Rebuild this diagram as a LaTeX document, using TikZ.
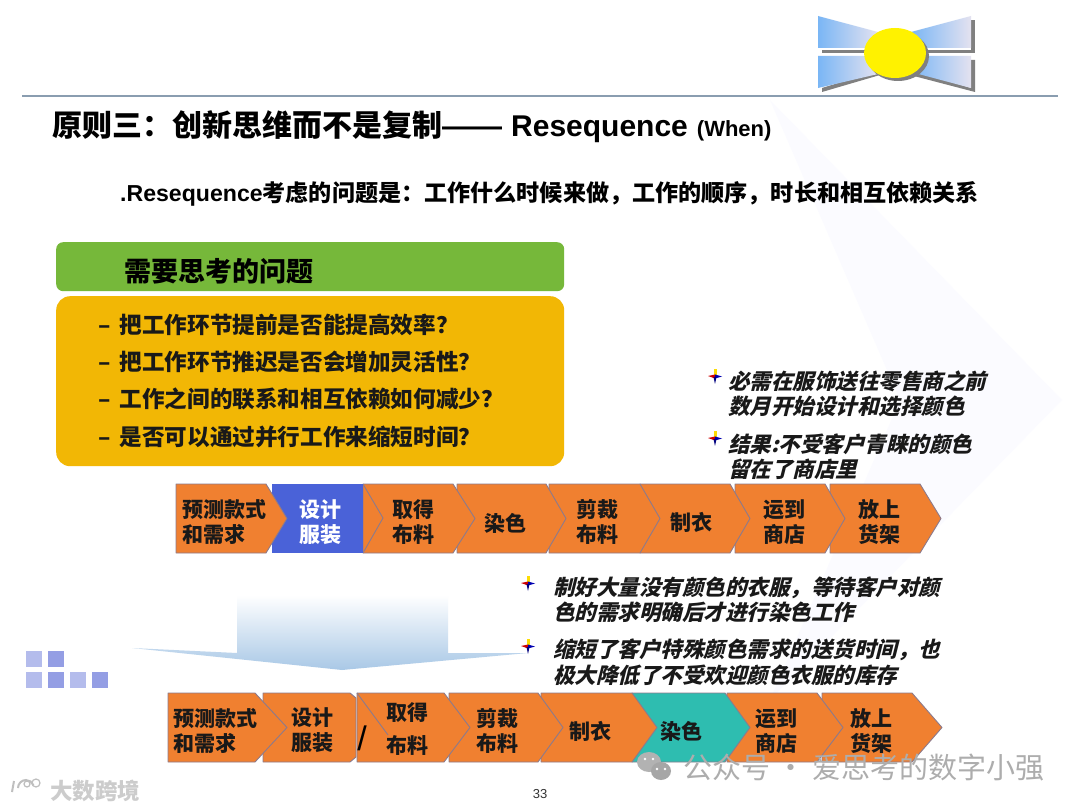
\documentclass[tikz,border=0pt]{standalone}
\usepackage{fontspec}
\usetikzlibrary{shapes.geometric}
\setmainfont{Noto Sans CJK SC}
\newfontfamily\cjks{Noto Sans CJK SC}[FakeSlant=0.25]
\newfontfamily\lat{Liberation Sans}
\definecolor{chevor}{HTML}{F08030}
\definecolor{chevline}{HTML}{8C7A8C}
\definecolor{rulecol}{HTML}{8A9DB0}
\definecolor{blueb}{HTML}{4A62D8}
\definecolor{tealb}{HTML}{2EBDB0}
\definecolor{greenb}{HTML}{76B83A}
\definecolor{goldb}{HTML}{F2B705}
\definecolor{bowl}{HTML}{7AB6F5}
\definecolor{bowr}{HTML}{E4E2F0}
\definecolor{arrowb}{HTML}{A9C8E6}
\definecolor{sqa}{HTML}{B4BCEC}
\definecolor{sqb}{HTML}{949EE4}
\tikzset{
  chev/.style={fill=chevor,draw=chevline,line width=0.9pt,line join=round},
  lab/.style={font=\fontsize{21}{25.5}\selectfont\bfseries,text=black!90,align=center,inner sep=0pt},
  labl/.style={lab,align=left},
  gold/.style={font=\fontsize{22.6}{26}\selectfont\bfseries,text=black!90,anchor=west,inner sep=0pt},
  slant/.style={font=\fontsize{21.5}{25}\selectfont\cjks\bfseries,text=black!90,anchor=west,inner sep=0pt},
  sq/.style={minimum size=16pt,inner sep=0pt,draw=none,anchor=north west},
  bowshade/.style={left color=bowl,right color=bowr},
}
\newcommand{\bul}[2]{%
  \fill[yellow!80!orange] (#1-1.5,#2-8) -- (#1+1.5,#2-8) -- (#1+1.5,#2) -- (#1-1.5,#2) -- cycle;
  \fill[red!80!black] (#1-7,#2-1) -- (#1,#2-2.5) -- (#1,#2+1.5) -- cycle;
  \fill[blue!70!black] (#1+7,#2-0.5) -- (#1,#2-2.5) -- (#1,#2+1.5) -- cycle;
  \fill[blue!50!black] (#1-1.5,#2) -- (#1+1.5,#2) -- (#1,#2+7) -- cycle;
}
\newcommand{\pent}[5][chev]{% style, left, shoulder, tip, top
  \path[#1] (#2,#5) -- (#3,#5) -- (#4,#5+34.5) -- (#3,#5+69) -- (#2,#5+69) -- cycle;
}
\begin{document}
\begin{tikzpicture}[x=1pt,y=-1pt]
\useasboundingbox (0,0) rectangle (1080,810);
\fill[white] (0,0) rectangle (1080,810);
% faint background
\fill[blue!1.5] (770,100) -- (1062,400) -- (770,700) -- (900,400) -- cycle;
% logo
\fill[gray] (822,50) rectangle (975,53);
\fill[gray] (971,20) rectangle (975,53);
\fill[gray] (822,92) -- (880,75) -- (910,75) -- (975,92) -- (975,60) -- (971,60) -- (971,88) -- (910,70) -- (880,70) -- (822,88) -- cycle;
\shade[bowshade] (818,16) -- (878,32) -- (878,48) -- (818,48) -- cycle;
\shade[bowshade] (818,56) -- (878,56) -- (878,74) -- (818,88) -- cycle;
\shade[bowshade] (911,32) -- (971,16) -- (971,48) -- (911,48) -- cycle;
\shade[bowshade] (911,56) -- (971,56) -- (971,88) -- (911,72) -- cycle;
\fill[gray] (898,56) ellipse [x radius=31,y radius=25];
\node[ellipse,fill=yellow,minimum width=62pt,minimum height=50pt,inner sep=0pt] (sun) at (895,53) {};
\draw[rulecol,line width=1.3pt] (22,96) -- (1058,96);
% title
\node[anchor=west,inner sep=0pt] (title) at (52,127) {\fontsize{30}{32}\selectfont\bfseries 原则三：创新思维而不是复制{\lat ——\hspace{9pt}\fontsize{30}{32}\selectfont Resequence\hspace{9pt}\fontsize{22}{24}\selectfont(When)}};
\node[anchor=west,inner sep=0pt] (sub) at (120,194) {\fontsize{23.1}{26}\selectfont\bfseries{\lat .Resequence}考虑的问题是：工作什么时候来做，工作的顺序，时长和相互依赖关系};
% boxes
\node[fill=greenb,rounded corners=7pt,minimum width=508pt,minimum height=49pt,inner sep=0pt,anchor=north west] (head) at (56,242) {};
\node[fill=goldb,rounded corners=14pt,minimum width=508pt,minimum height=170pt,inner sep=0pt,anchor=north west] (goldbox) at (56,296) {};
\node[anchor=west,inner sep=0pt] (headt) at (124,271) {\fontsize{27}{30}\selectfont\bfseries 需要思考的问题};
\node[gold] (q1) at (98,325) {–\hspace{9pt}把工作环节提前是否能提高效率？};
\node[gold] (q2) at (98,362) {–\hspace{9pt}把工作环节推迟是否会增加灵活性？};
\node[gold] (q3) at (98,399) {–\hspace{9pt}工作之间的联系和相互依赖如何减少？};
\node[gold] (q4) at (98,437) {–\hspace{9pt}是否可以通过并行工作来缩短时间？};
% row 1
\pent{830}{920}{941}{484}
\pent{735}{825}{845}{484}
\pent{640}{730}{750}{484}
\pent{549}{640}{660}{484}
\pent{457}{546}{566}{484}
\pent{363}{453}{475}{484}
\draw[chevline,line width=0.9pt] (363,484) -- (383,518) -- (363,553);
\fill[blueb] (272,484) rectangle (363,553);
\pent{176}{266}{287}{484}
\node[labl] (a1) at (224,522) {预测款式\\和需求};
\node[lab,text=white] (a2) at (320,522) {设计\\服装};
\node[lab] (a3) at (413,522) {取得\\布料};
\node[lab] (a4) at (505,523) {染色};
\node[lab] (a5) at (597,522) {剪裁\\布料};
\node[lab] (a6) at (691,522) {制衣};
\node[lab] (a7) at (784,522) {运到\\商店};
\node[lab] (a8) at (879,522) {放上\\货架};
% notes
\bul{715}{377} \bul{715}{439} \bul{528}{584}
\node[slant] (n1) at (728,381) {必需在服饰送往零售商之前};
\node[slant] (n2) at (728,406) {数月开始设计和选择颜色};
\node[slant] (n3) at (728,444) {结果:不受客户青睐的颜色};
\node[slant] (n4) at (728,469) {留在了商店里};
\node[slant] (n5) at (553,588) {制好大量没有颜色的衣服，等待客户对颜};
\node[slant] (n6) at (553,612) {色的需求明确后才进行染色工作};
\node[slant] (n7) at (553,650) {缩短了客户特殊颜色需求的送货时间，也};
\node[slant] (n8) at (553,675) {极大降低了不受欢迎颜色衣服的库存};
% big arrow
\shade[top color=white,bottom color=arrowb] (237,595) -- (448,595) -- (448,653) -- (528,653) -- (342,670) -- (132,648) -- (237,653) -- cycle;
\bul{528}{647}
% squares
\node[sq,fill=sqa] (s1) at (26,651) {};
\node[sq,fill=sqb] (s2) at (48,651) {};
\node[sq,fill=sqa] (s3) at (26,672) {};
\node[sq,fill=sqb] (s4) at (48,672) {};
\node[sq,fill=sqa] (s5) at (70,672) {};
\node[sq,fill=sqb] (s6) at (92,672) {};
% row 2
\pent{822}{912}{942}{693}
\pent{727}{817}{843}{693}
\pent[chev,fill=tealb]{632}{725}{750}{693}
\pent{541}{632}{657}{693}
\pent{449}{538}{563}{693}
\pent{357}{444}{470}{693}
\path[chev] (263,693) -- (350,693) -- (356,698) -- (356,757) -- (350,762) -- (263,762) -- cycle;
\draw[chevline,line width=0.9pt] (357,693) -- (388,735);
\pent{168}{255}{287}{693}
\node[labl] (b1) at (215,731) {预测款式\\和需求};
\node[lab] (b2) at (312,730) {设计\\服装};
\node[lab] (b3a) at (407,713) {取得};
\node[lab] (b3b) at (407,745) {布料};
\node[font=\fontsize{34}{34}\selectfont\lat,inner sep=0pt] (slash) at (362,738) {/};
\node[lab] (b4) at (497,731) {剪裁\\布料};
\node[lab] (b5) at (590,731) {制衣};
\node[lab] (b6) at (681,731) {染色};
\node[lab] (b7) at (776,731) {运到\\商店};
\node[lab] (b8) at (871,731) {放上\\货架};
% watermark
\fill[black!30] (649,762) ellipse [x radius=12,y radius=10];
\fill[black!35] (661,771) ellipse [x radius=10,y radius=9];
\fill[white] (657,769) circle (1.3) (665,769) circle (1.3) (645,759) circle (1.3) (653,759) circle (1.3);
\node[anchor=west,inner sep=0pt,text=black!32] (wm) at (683,767) {\fontsize{29}{32}\selectfont 公众号 · 爱思考的数字小强};
\node[anchor=west,inner sep=0pt,text=black!20] (wm2) at (50,791) {\fontsize{22.5}{25}\selectfont\bfseries 大数跨境};
\draw[black!25,line width=2pt] (14,781) -- (12,792) (18,788) arc (180:340:8);
\draw[black!25,line width=1.2pt] (27,784) circle (3) (36,783) circle (4);
\node[font=\fontsize{13}{15}\selectfont\lat,inner sep=0pt,text=black!80] (page) at (540,794) {33};
\end{tikzpicture}
\end{document}
